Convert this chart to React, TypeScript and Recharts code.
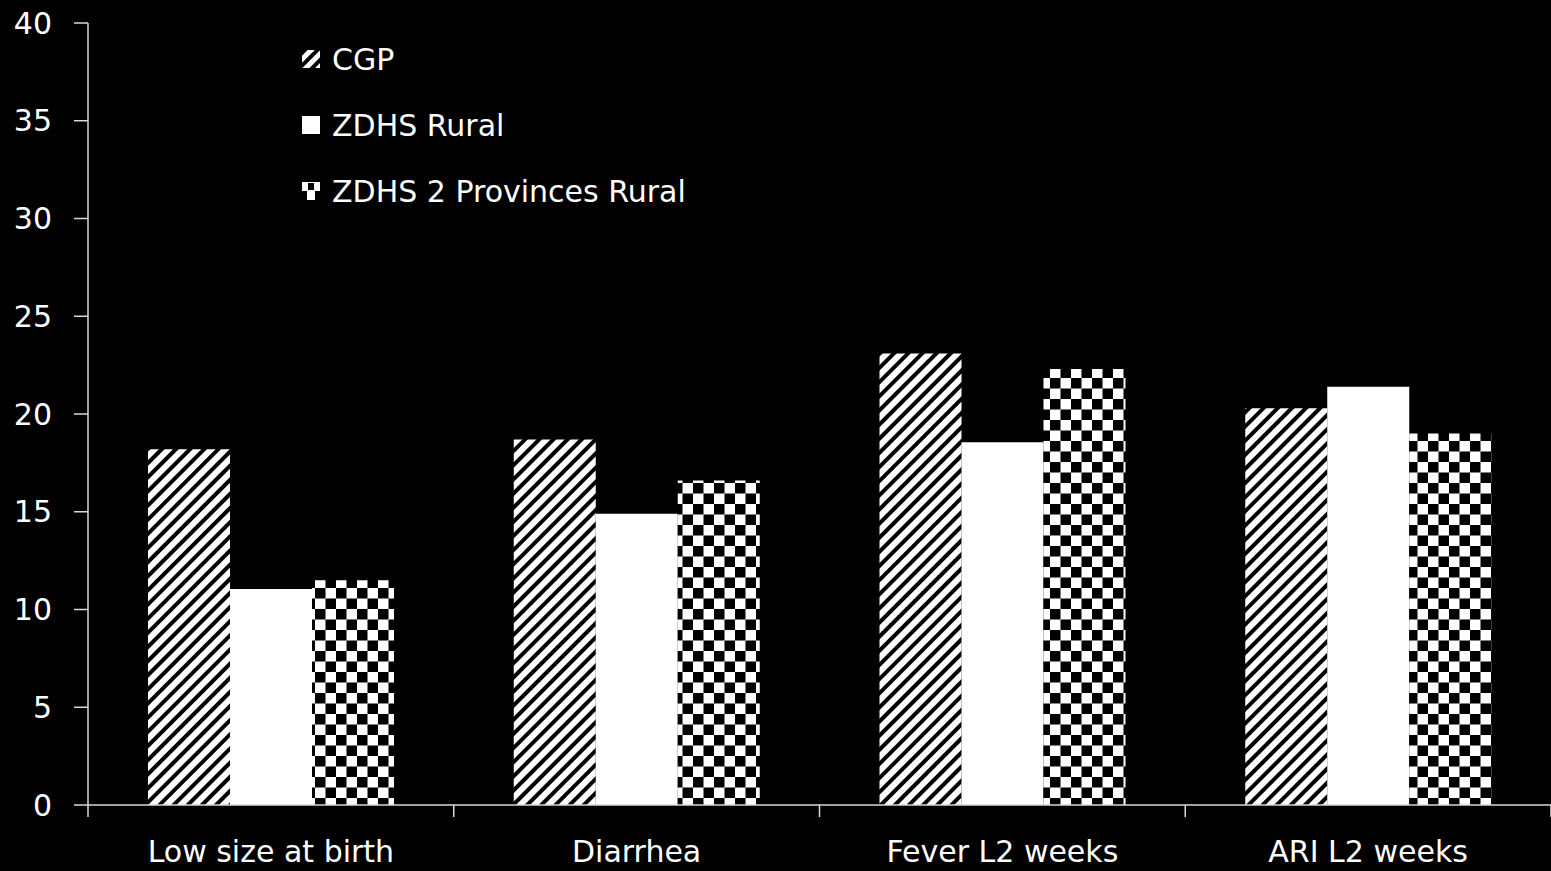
import React from "react";
import { BarChart, Bar, XAxis, YAxis, Legend } from "recharts";

const categories = ["Low size at birth", "Diarrhea", "Fever L2 weeks", "ARI L2 weeks"];
const cgp = [18.2, 18.7, 23.1, 20.3];
const zdhsRural = [11.05, 14.9, 18.55, 21.4];
const zdhs2Prov = [11.5, 16.6, 22.3, 19.0];
const yTicks = [0, 5, 10, 15, 20, 25, 30, 35, 40];

const chartData = categories.map((name, i) => ({
  name,
  cgp: cgp[i],
  rural: zdhsRural[i],
  prov: zdhs2Prov[i],
}));

const FONT = "'DejaVu Sans', sans-serif";
const AXIS = "#d9d9d9";

const series = [
  { key: "cgp", label: "CGP", fill: "url(#hatch)" },
  { key: "rural", label: "ZDHS Rural", fill: "#ffffff" },
  { key: "prov", label: "ZDHS 2 Provinces Rural", fill: "url(#checker)" },
];

const Swatch = ({ kind }: { kind: string }) => (
  <svg width={18} height={18} style={{ display: "block" }}>
    <defs>
      <pattern id="sw-hatch" width={9} height={9} patternUnits="userSpaceOnUse" patternTransform="rotate(45)">
        <rect width={9} height={9} fill="#fff" />
        <rect width={4} height={9} fill="#000" />
      </pattern>
    </defs>
    {kind === "cgp" && <rect width={18} height={18} fill="url(#sw-hatch)" />}
    {kind === "rural" && <rect width={18} height={18} fill="#fff" />}
    {kind === "prov" && (
      <g>
        <rect width={18} height={18} fill="#fff" />
        <rect x={6} y={1} width={6} height={7} fill="#000" />
        <rect x={0} y={9} width={5} height={9} fill="#000" />
        <rect x={13} y={9} width={5} height={9} fill="#000" />
      </g>
    )}
  </svg>
);

const renderLegend = () => (
  <div style={{ fontFamily: FONT, color: "#fff", fontSize: 30 }}>
    {series.map((s) => (
      <div key={s.key} style={{ display: "flex", alignItems: "center", height: 66 }}>
        <Swatch kind={s.key} />
        <span style={{ marginLeft: 12, whiteSpace: "nowrap" }}>{s.label}</span>
      </div>
    ))}
  </div>
);

// category label plus tick marks on the band edges
const CategoryTick = (props: any) => {
  const { x, y, payload, index, visibleTicksCount } = props;
  const half = payload.offset || 0;
  const axisY = y - 24;
  return (
    <g>
      <line x1={x - half} y1={axisY - 12} x2={x - half} y2={axisY} stroke={AXIS} strokeWidth={1.5} />
      {index === visibleTicksCount - 1 && (
        <line x1={x + half} y1={axisY - 12} x2={x + half} y2={axisY} stroke={AXIS} strokeWidth={1.5} />
      )}
      <text x={x} y={y} dy="0.71em" textAnchor="middle" fill="#fff" fontSize={30} fontFamily={FONT}>
        {payload.value}
      </text>
    </g>
  );
};

export default function App() {
  return (
    <div style={{ position: "fixed", left: 0, top: 0, width: 1551, height: 871, background: "#000" }}>
      <BarChart
        width={1551}
        height={871}
        data={chartData}
        margin={{ top: 23, right: 0, bottom: 0, left: 0 }}
        barCategoryGap={60}
        barGap={0}
      >
        <defs>
          <pattern id="hatch" width={10} height={10} patternUnits="userSpaceOnUse" patternTransform="rotate(45)">
            <rect width={10} height={10} fill="#fff" />
            <rect width={4} height={10} fill="#000" />
          </pattern>
          <pattern id="checker" width={21} height={21} patternUnits="userSpaceOnUse">
            <rect width={21} height={21} fill="#fff" />
            <rect x={0} y={0} width={10.5} height={10.5} fill="#000" />
            <rect x={10.5} y={10.5} width={10.5} height={10.5} fill="#000" />
          </pattern>
        </defs>
        <XAxis
          dataKey="name"
          height={66}
          stroke={AXIS}
          strokeWidth={1.5}
          tickLine={false}
          tickSize={0}
          tickMargin={36}
          tick={<CategoryTick />}
          interval={0}
        />
        <YAxis
          width={88}
          domain={[0, 40]}
          ticks={yTicks}
          stroke={AXIS}
          strokeWidth={1.5}
          tickSize={14}
          tickMargin={22}
          tick={{ fill: "#fff", fontSize: 30, fontFamily: FONT }}
        />
        <Legend
          layout="horizontal"
          verticalAlign="middle"
          align="center"
          content={renderLegend}
          wrapperStyle={{ left: 302, top: 26, width: 500 }}
        />
        {series.map((s) => (
          <Bar key={s.key} dataKey={s.key} name={s.label} fill={s.fill} isAnimationActive={false} />
        ))}
      </BarChart>
    </div>
  );
}
